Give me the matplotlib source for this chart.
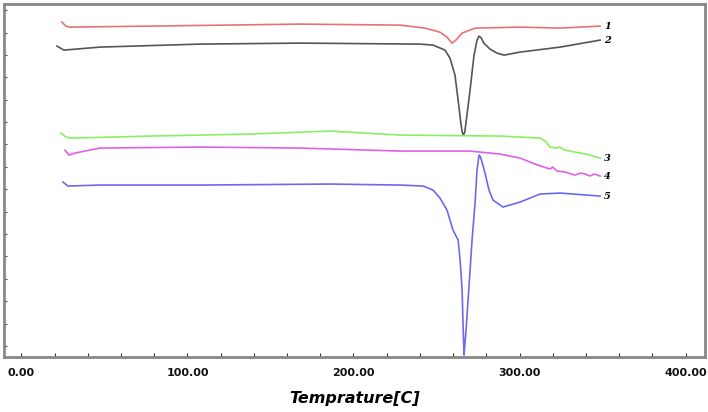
import numpy as np
import matplotlib.pyplot as plt
from matplotlib.ticker import MultipleLocator

# DSC traces, temperature (C) vs heat flow (arbitrary units)
t1 = [24.4, 26.8, 29.2, 77.4, 167.8, 228, 243, 252, 256.3, 259.3, 261.7, 265.4, 273.2, 300.3, 324.4, 348.5]
h1 = [390, 386, 385, 386, 388, 387, 384, 380, 375, 369, 372, 379, 384, 385, 384, 386]

t2 = [21.4, 25.6, 47.3, 107.5, 167.8, 240, 247.9, 255.1, 258.1, 261.1, 263, 264.8, 265.5, 266.2, 267,
      267.8, 270.2, 272.6, 274.4, 275.6, 277, 278.5, 282.2, 286.4, 290.7, 300.3, 324.4, 348.5]
h2 = [366, 362, 365, 368, 369, 368, 367, 362, 354, 337, 312, 287, 280, 277, 280,
      290, 322, 357, 372, 376, 374, 369, 363, 359, 357, 360, 365, 372]

t3 = [23.8, 26.8, 30.4, 77.4, 137.7, 185.8, 228, 288.3, 312.3, 315.4, 318.4, 322, 324, 327.4, 333.4, 340, 348.5]
h3 = [279, 275, 274, 276, 278, 281, 277, 276, 274, 271, 265, 264, 265, 262, 260, 258, 254]

t4 = [26.2, 28.6, 32.2, 47.3, 107.5, 167.8, 228, 270.2, 288.3, 300.3, 309.3, 318.4, 320, 322.6,
      327.4, 333.4, 337, 339.5, 342.5, 345, 348.5]
h4 = [262, 257, 259, 264, 265, 264, 261, 261, 258, 254, 248, 243, 245, 241,
      240, 237, 239, 238, 236, 238, 236]

t5 = [25.0, 28.0, 47.3, 107.5, 185.8, 228, 241.9, 247.9, 252.1, 256.3, 259.9, 263, 264.2, 265.4, 266.2, 266.6,
      267.1, 267.8, 269, 271.4, 273.2, 274.4, 275.6, 276.5, 277.4, 279.2, 281.6, 284, 290, 300.3, 312.3, 324.4, 348.5]
h5 = [230, 226, 227, 227, 228, 227, 226, 222, 214, 202, 182, 172, 152, 122, 75, 57,
      68, 82, 112, 172, 209, 242, 257, 255, 250, 239, 222, 212, 205, 210, 218, 219, 216]

labels = ['1', '2', '3', '4', '5']
colors = ['#e87272', '#555555', '#88f060', '#e060e8', '#6a6af0']

fig = plt.figure(figsize=(7.08, 4.12), dpi=100)
ax = fig.add_axes([0.0056, 0.1335, 0.9902, 0.8565])

for t, h, lab, c in zip([t1, t2, t3, t4, t5], [h1, h2, h3, h4, h5], labels, colors):
    ax.plot(t, h, color=c, lw=1.2)
    ax.text(t[-1] + 2.5, h[-1], lab, fontsize=7, fontstyle='italic', fontweight='bold',
            family='DejaVu Serif', va='center', ha='left')

ax.set_xlim(-10.5, 411.7)
ax.set_ylim(55, 408)

ax.xaxis.set_major_locator(MultipleLocator(100))
ax.xaxis.set_minor_locator(MultipleLocator(20))
ax.set_xticklabels([f'{v:.2f}' for v in ax.get_xticks()])
ax.set_yticks(np.arange(402, 55, -22.4))
ax.set_yticklabels([])
ax.tick_params(axis='x', which='both', direction='in', length=3, width=0.8, pad=8,
               labelsize=8, colors='#333333')
ax.tick_params(axis='y', which='both', direction='in', length=2, width=0.8, colors='#444444')
for lbl in ax.get_xticklabels():
    lbl.set_fontweight('bold')
    lbl.set_color('#111111')

for s in ax.spines.values():
    s.set_color('#888888')
    s.set_linewidth(2)

ax.set_xlabel('Temprature[C]', fontsize=11.5, fontstyle='italic', fontweight='bold', labelpad=9)

fig.savefig('out.png', dpi=100)
